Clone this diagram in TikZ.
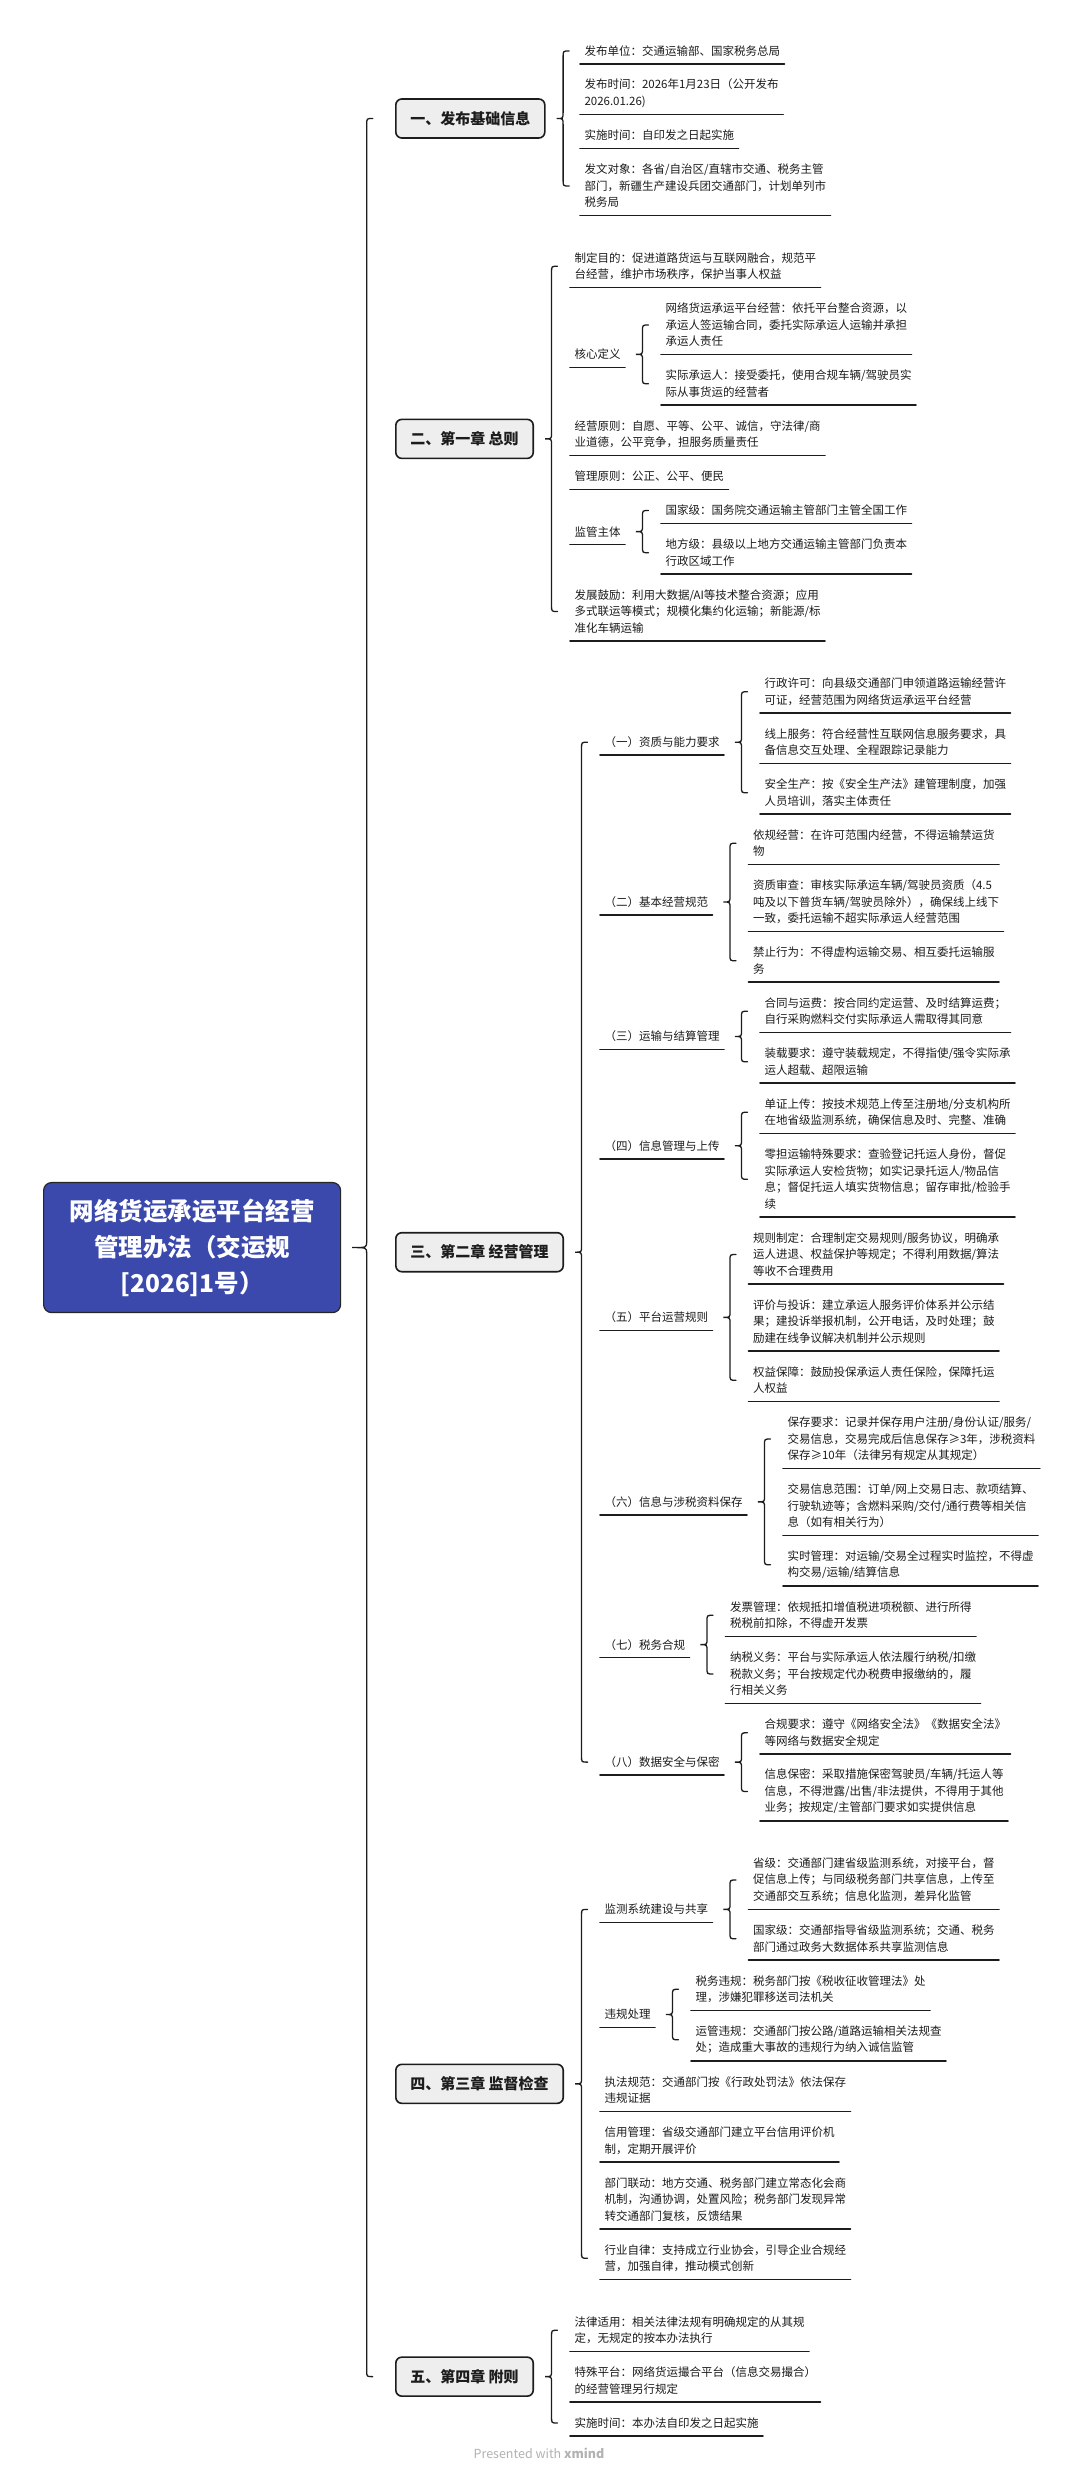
\documentclass[tikz,border=0pt]{standalone}
\usepackage{fontspec}
\setmainfont{Noto Sans CJK SC}
\usetikzlibrary{positioning,calc}
\definecolor{rootblue}{RGB}{58,73,171}
\definecolor{ink}{RGB}{28,28,28}
\definecolor{topicgray}{RGB}{238,238,238}
\newcommand{\leaffont}{\fontsize{11.5pt}{16.5pt}\selectfont}
\newcommand{\topicfont}{\fontsize{15pt}{18pt}\selectfont\bfseries}
\newcommand{\rootfont}{\fontsize{24.5pt}{36pt}\selectfont\bfseries}
% brace from a parent to the span of its children: [tip-to-bar] {parent}{first}{last}
\newcommand{\bracelink}[4][6.5]{%
  \draw[brc] let \p1=(#2.east), \p2=(#3), \p3=(#4) in
    (\x1+#1pt+17pt,\y2) .. controls (\x1+#1pt+11pt,\y2) .. (\x1+#1pt+11pt,\y2-6pt)
    -- (\x1+#1pt+11pt,\y1+6pt) .. controls (\x1+#1pt+11pt,\y1) .. (\x1+11pt,\y1)
    .. controls (\x1+#1pt+11pt,\y1) .. (\x1+#1pt+11pt,\y1-6pt)
    -- (\x1+#1pt+11pt,\y3+6pt) .. controls (\x1+#1pt+11pt,\y3) .. (\x1+#1pt+17pt,\y3);}
\tikzset{
  root/.style  ={draw=black!85,line width=1.2pt,fill=rootblue,text=white,
                 rounded corners=8pt,align=center,font=\rootfont,
                 minimum width=297pt,minimum height=130pt},
  topic/.style ={draw=ink,line width=1.6pt,fill=topicgray,text=ink,
                 rounded corners=6pt,font=\topicfont,inner xsep=14.5pt,
                 minimum height=39pt},
  leaf/.style  ={align=left,font=\leaffont,text=ink,inner xsep=4.5pt,
                 inner ysep=0pt,outer sep=0pt,minimum height={34pt+16.5pt*(#1-1)},
                 append after command={\pgfextra{\let\lastleaf\tikzlastnode}
                   ([yshift=4pt]\lastleaf.south west) edge[uline]
                   ([yshift=4pt]\lastleaf.south east)}},
  leaf/.default=1,
  uline/.style ={draw=ink,line width=1.7pt},
  brc/.style   ={draw=ink,line width=1.3pt},
  wmark/.style ={text=black!30,font=\fontsize{12.5pt}{15pt}\selectfont},
}

\begin{document}
\begin{tikzpicture}[
    x=1pt, y=-1pt, % one unit is one pixel of the reference
    line cap=round
]
\path[use as bounding box, fill=white] (0,0) rectangle (1080,2476);

% Section one
\node[leaf, anchor=north west] (pub1) at (580,34) {发布单位：交通运输部、国家税务总局};
\node[leaf=2, below=0pt of pub1.south west, anchor=north west] (pub2) {发布时间：2026年1月23日（公开发布\\2026.01.26)};
\node[leaf, below=0pt of pub2.south west, anchor=north west] (pub3) {实施时间：自印发之日起实施};
\node[leaf=3, below=0pt of pub3.south west, anchor=north west] (pub4) {发文对象：各省/自治区/直辖市交通、税务主管\\部门，新疆生产建设兵团交通部门，计划单列市\\税务局};
\path (395,0 |- pub1) -- (395,0 |- pub4) node[midway, topic, anchor=west] (sec1) {一、发布基础信息};

% Section two
\node[leaf=2, anchor=north west, yshift=-21.5pt] (gen1) at (570,0 |- pub4.south) {制定目的：促进道路货运与互联网融合，规范平\\台经营，维护市场秩序，保护当事人权益};
\node[leaf=3, anchor=north west] (gen2) at (661,0 |- gen1.south) {网络货运承运平台经营：依托平台整合资源，以\\承运人签运输合同，委托实际承运人运输并承担\\承运人责任};
\node[leaf=2, below=0pt of gen2.south west, anchor=north west] (gen3) {实际承运人：接受委托，使用合规车辆/驾驶员实\\际从事货运的经营者};
\node[leaf=2, anchor=north west] (gen4) at (570,0 |- gen3.south) {经营原则：自愿、平等、公平、诚信，守法律/商\\业道德，公平竞争，担服务质量责任};
\node[leaf, below=0pt of gen4.south west, anchor=north west] (gen5) {管理原则：公正、公平、便民};
\node[leaf, anchor=north west] (gen6) at (661,0 |- gen5.south) {国家级：国务院交通运输主管部门主管全国工作};
\node[leaf=2, below=0pt of gen6.south west, anchor=north west] (gen7) {地方级：县级以上地方交通运输主管部门负责本\\行政区域工作};
\node[leaf=3, anchor=north west] (gen8) at (570,0 |- gen7.south) {发展鼓励：利用大数据/AI等技术整合资源；应用\\多式联运等模式；规模化集约化运输；新能源/标\\准化车辆运输};
\path (570,0 |- gen2) -- (570,0 |- gen3) node[midway, leaf, anchor=west] (core) {核心定义};
\path (570,0 |- gen6) -- (570,0 |- gen7) node[midway, leaf, anchor=west] (supv) {监管主体};
\path (395,0 |- gen1) -- (395,0 |- gen8) node[midway, topic, anchor=west] (sec2) {二、第一章 总则};

% Section three
\node[leaf=2, anchor=north west, yshift=-21.5pt] (op1) at (760,0 |- gen8.south) {行政许可：向县级交通部门申领道路运输经营许\\可证，经营范围为网络货运承运平台经营};
\node[leaf=2, below=0pt of op1.south west, anchor=north west] (op2) {线上服务：符合经营性互联网信息服务要求，具\\备信息交互处理、全程跟踪记录能力};
\node[leaf=2, below=0pt of op2.south west, anchor=north west] (op3) {安全生产：按《安全生产法》建管理制度，加强\\人员培训，落实主体责任};
\node[leaf=2, anchor=north west] (op4) at (748.5,0 |- op3.south) {依规经营：在许可范围内经营，不得运输禁运货\\物};
\node[leaf=3, below=0pt of op4.south west, anchor=north west] (op5) {资质审查：审核实际承运车辆/驾驶员资质（4.5\\吨及以下普货车辆/驾驶员除外），确保线上线下\\一致，委托运输不超实际承运人经营范围};
\node[leaf=2, below=0pt of op5.south west, anchor=north west] (op6) {禁止行为：不得虚构运输交易、相互委托运输服\\务};
\node[leaf=2, anchor=north west] (op7) at (760,0 |- op6.south) {合同与运费：按合同约定运营、及时结算运费；\\自行采购燃料交付实际承运人需取得其同意};
\node[leaf=2, below=0pt of op7.south west, anchor=north west] (op8) {装载要求：遵守装载规定，不得指使/强令实际承\\运人超载、超限运输};
\node[leaf=2, below=0pt of op8.south west, anchor=north west] (op9) {单证上传：按技术规范上传至注册地/分支机构所\\在地省级监测系统，确保信息及时、完整、准确};
\node[leaf=4, below=0pt of op9.south west, anchor=north west] (op10) {零担运输特殊要求：查验登记托运人身份，督促\\实际承运人安检货物；如实记录托运人/物品信\\息；督促托运人填实货物信息；留存审批/检验手\\续};
\node[leaf=3, anchor=north west] (op11) at (748.5,0 |- op10.south) {规则制定：合理制定交易规则/服务协议，明确承\\运人进退、权益保护等规定；不得利用数据/算法\\等收不合理费用};
\node[leaf=3, below=0pt of op11.south west, anchor=north west] (op12) {评价与投诉：建立承运人服务评价体系并公示结\\果；建投诉举报机制，公开电话，及时处理；鼓\\励建在线争议解决机制并公示规则};
\node[leaf=2, below=0pt of op12.south west, anchor=north west] (op13) {权益保障：鼓励投保承运人责任保险，保障托运\\人权益};
\node[leaf=3, anchor=north west] (op14) at (783,0 |- op13.south) {保存要求：记录并保存用户注册/身份认证/服务/\\交易信息，交易完成后信息保存≥3年，涉税资料\\保存≥10年（法律另有规定从其规定）};
\node[leaf=3, below=0pt of op14.south west, anchor=north west] (op15) {交易信息范围：订单/网上交易日志、款项结算、\\行驶轨迹等；含燃料采购/交付/通行费等相关信\\息（如有相关行为）};
\node[leaf=2, below=0pt of op15.south west, anchor=north west] (op16) {实时管理：对运输/交易全过程实时监控，不得虚\\构交易/运输/结算信息};
\node[leaf=2, anchor=north west] (op17) at (725.5,0 |- op16.south) {发票管理：依规抵扣增值税进项税额、进行所得\\税税前扣除，不得虚开发票};
\node[leaf=3, below=0pt of op17.south west, anchor=north west] (op18) {纳税义务：平台与实际承运人依法履行纳税/扣缴\\税款义务；平台按规定代办税费申报缴纳的，履\\行相关义务};
\node[leaf=2, anchor=north west] (op19) at (760,0 |- op18.south) {合规要求：遵守《网络安全法》《数据安全法》\\等网络与数据安全规定};
\node[leaf=3, below=0pt of op19.south west, anchor=north west] (op20) {信息保密：采取措施保密驾驶员/车辆/托运人等\\信息，不得泄露/出售/非法提供，不得用于其他\\业务；按规定/主管部门要求如实提供信息};
\path (600,0 |- op1) -- (600,0 |- op3) node[midway, leaf, anchor=west] (qual) {（一）资质与能力要求};
\path (600,0 |- op4) -- (600,0 |- op6) node[midway, leaf, anchor=west] (norm) {（二）基本经营规范};
\path (600,0 |- op7) -- (600,0 |- op8) node[midway, leaf, anchor=west] (settle) {（三）运输与结算管理};
\path (600,0 |- op9) -- (600,0 |- op10) node[midway, leaf, anchor=west] (upload) {（四）信息管理与上传};
\path (600,0 |- op11) -- (600,0 |- op13) node[midway, leaf, anchor=west] (rules) {（五）平台运营规则};
\path (600,0 |- op14) -- (600,0 |- op16) node[midway, leaf, anchor=west] (store) {（六）信息与涉税资料保存};
\path (600,0 |- op17) -- (600,0 |- op18) node[midway, leaf, anchor=west] (tax) {（七）税务合规};
\path (600,0 |- op19) -- (600,0 |- op20) node[midway, leaf, anchor=west] (safe) {（八）数据安全与保密};
\path (395,0 |- qual) -- (395,0 |- safe) node[midway, topic, anchor=west] (sec3) {三、第二章 经营管理};

% Section four
\node[leaf=3, anchor=north west, yshift=-21.5pt] (sup1) at (748.5,0 |- op20.south) {省级：交通部门建省级监测系统，对接平台，督\\促信息上传；与同级税务部门共享信息，上传至\\交通部交互系统；信息化监测，差异化监管};
\node[leaf=2, below=0pt of sup1.south west, anchor=north west] (sup2) {国家级：交通部指导省级监测系统；交通、税务\\部门通过政务大数据体系共享监测信息};
\node[leaf=2, anchor=north west] (sup3) at (691,0 |- sup2.south) {税务违规：税务部门按《税收征收管理法》处\\理，涉嫌犯罪移送司法机关};
\node[leaf=2, below=0pt of sup3.south west, anchor=north west] (sup4) {运管违规：交通部门按公路/道路运输相关法规查\\处；造成重大事故的违规行为纳入诚信监管};
\node[leaf=2, anchor=north west] (sup5) at (600,0 |- sup4.south) {执法规范：交通部门按《行政处罚法》依法保存\\违规证据};
\node[leaf=2, below=0pt of sup5.south west, anchor=north west] (sup6) {信用管理：省级交通部门建立平台信用评价机\\制，定期开展评价};
\node[leaf=3, below=0pt of sup6.south west, anchor=north west] (sup7) {部门联动：地方交通、税务部门建立常态化会商\\机制，沟通协调，处置风险；税务部门发现异常\\转交通部门复核，反馈结果};
\node[leaf=2, below=0pt of sup7.south west, anchor=north west] (sup8) {行业自律：支持成立行业协会，引导企业合规经\\营，加强自律，推动模式创新};
\path (600,0 |- sup1) -- (600,0 |- sup2) node[midway, leaf, anchor=west] (watch) {监测系统建设与共享};
\path (600,0 |- sup3) -- (600,0 |- sup4) node[midway, leaf, anchor=west] (breach) {违规处理};
\path (395,0 |- watch) -- (395,0 |- sup8) node[midway, topic, anchor=west] (sec4) {四、第三章 监督检查};

% Section five
\node[leaf=2, anchor=north west, yshift=-21.5pt] (end1) at (570,0 |- sup8.south) {法律适用：相关法律法规有明确规定的从其规\\定，无规定的按本办法执行};
\node[leaf=2, below=0pt of end1.south west, anchor=north west] (end2) {特殊平台：网络货运撮合平台（信息交易撮合）\\的经营管理另行规定};
\node[leaf, below=0pt of end2.south west, anchor=north west] (end3) {实施时间：本办法自印发之日起实施};
\path (395,0 |- end1) -- (395,0 |- end3) node[midway, topic, anchor=west] (sec5) {五、第四章 附则};

% Root
\path (43,0 |- sec1) -- (43,0 |- sec5) node[midway, root, anchor=west] (root) {网络货运承运平台经营\\管理办法（交运规\\{}[2026]1号）};

\node[wmark] (credit) at (539,2453) {Presented with \textbf{xmind}};

% Edges (braces from each parent to its children)
\bracelink[14.5]{root}{sec1}{sec5}
\bracelink{sec1}{pub1}{pub4}
\bracelink{sec2}{gen1}{gen8}
\bracelink{core}{gen2}{gen3}
\bracelink{supv}{gen6}{gen7}
\bracelink{sec3}{qual}{safe}
\bracelink{qual}{op1}{op3}
\bracelink{norm}{op4}{op6}
\bracelink{settle}{op7}{op8}
\bracelink{upload}{op9}{op10}
\bracelink{rules}{op11}{op13}
\bracelink{store}{op14}{op16}
\bracelink{tax}{op17}{op18}
\bracelink{safe}{op19}{op20}
\bracelink{sec4}{watch}{sup8}
\bracelink{watch}{sup1}{sup2}
\bracelink{breach}{sup3}{sup4}
\bracelink{sec5}{end1}{end3}

\end{tikzpicture}
\end{document}
